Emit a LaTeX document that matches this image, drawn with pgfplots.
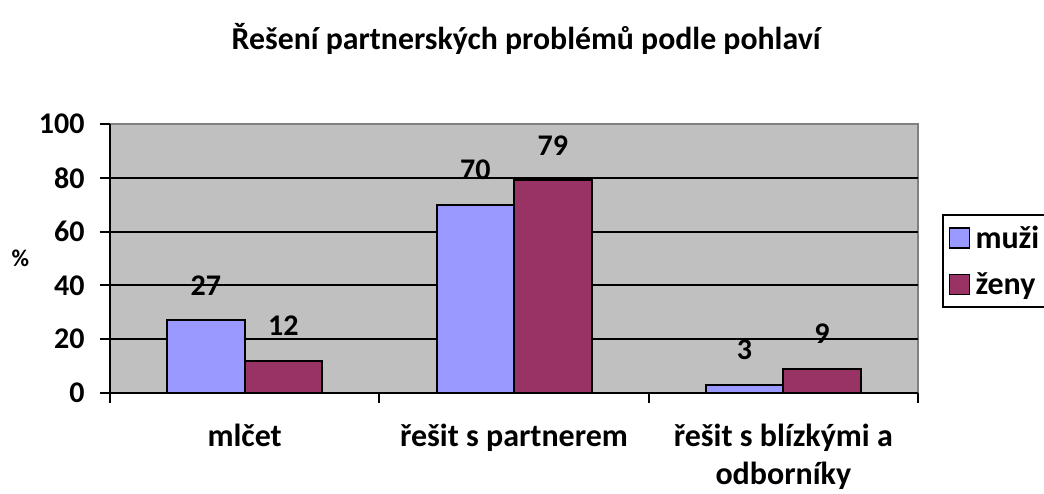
\documentclass[border=0pt]{standalone}
\usepackage{fontspec}
\setmainfont{Carlito}
\usepackage{pgfplots}
\pgfplotsset{compat=1.18}
\definecolor{graybg}{HTML}{C0C0C0}
\definecolor{borderg}{HTML}{808080}
\definecolor{muzi}{HTML}{9999FF}
\definecolor{zeny}{HTML}{993366}
\begin{document}
\bfseries
\begin{tikzpicture}
\path[use as bounding box] (-110pt,-100pt) rectangle (934pt,393pt);
\begin{axis}[
  at={(0pt,0pt)}, anchor=south west,
  scale only axis, width=808pt, height=269pt,
  xmin=-0.5, xmax=2.5, ymin=0, ymax=100,
  ybar=0pt, bar width=77.5pt,
  axis x line*=bottom, axis y line*=left,
  axis line style={-, line width=2pt, black},
  axis background/.style={fill=graybg, draw=borderg, line width=2pt},
  tick align=outside, major tick length=10pt,
  tick style={line width=2pt, black},
  ytick={0,20,40,60,80,100},
  xtick={-0.5,0.5,1.5,2.5}, xticklabels={},
  extra x ticks={0,1,2},
  extra x tick labels={mlčet, řešit s partnerem, {řešit s blízkými a\\odborníky}},
  extra x tick style={major tick length=0pt, tick style={draw=none}},
  extra y ticks={20,40,60,80}, extra y tick labels={},
  extra y tick style={ymajorgrids=true, major grid style={line width=2pt, black}},
  /pgf/number format/assume math mode=true,
  ticklabel style={font=\fontsize{30}{36}\selectfont\bfseries},
  xticklabel style={align=center, font=\fontsize{32}{38}\selectfont\bfseries, yshift=-28pt},
  yticklabel style={xshift=-12pt},
  ylabel={\%},
  ylabel style={rotate=-90, font=\fontsize{24}{28}\selectfont\bfseries, at={(axis description cs:-0.111,0.5)}, anchor=center},
  title={Řešení partnerských problémů podle pohlaví},
  title style={font=\fontsize{31.8}{38}\selectfont\bfseries, at={(axis description cs:0.515,1.295)}, anchor=center},
  nodes near coords,
  every node near coord/.append style={font=\fontsize{30}{36}\selectfont\bfseries, anchor=south, inner sep=0pt, yshift=24pt},
  legend style={at={(axis description cs:1.0297,0.665)}, anchor=north west, draw=black, line width=1.5pt, fill=white,
    font=\fontsize{32}{38}\selectfont\bfseries, row sep=19pt, inner xsep=6pt, inner ysep=9pt},
  legend cell align=left,
]
\addplot[fill=muzi, draw=black, line width=2pt,
  legend image code/.code={\draw[fill=muzi, draw=black, line width=1.5pt] (0pt,-10pt) rectangle (20pt,10pt); \path[draw=none, fill=none] (0pt,0pt) -- (24pt,0pt);}]
  coordinates {(0,27) (1,70) (2,3)};
\addplot[fill=zeny, draw=black, line width=2pt,
  legend image code/.code={\draw[fill=zeny, draw=black, line width=1.5pt] (0pt,-10pt) rectangle (20pt,10pt); \path[draw=none, fill=none] (0pt,0pt) -- (24pt,0pt);}]
  coordinates {(0,12) (1,79) (2,9)};
\legend{muži, ženy}
\end{axis}
\end{tikzpicture}
\end{document}
